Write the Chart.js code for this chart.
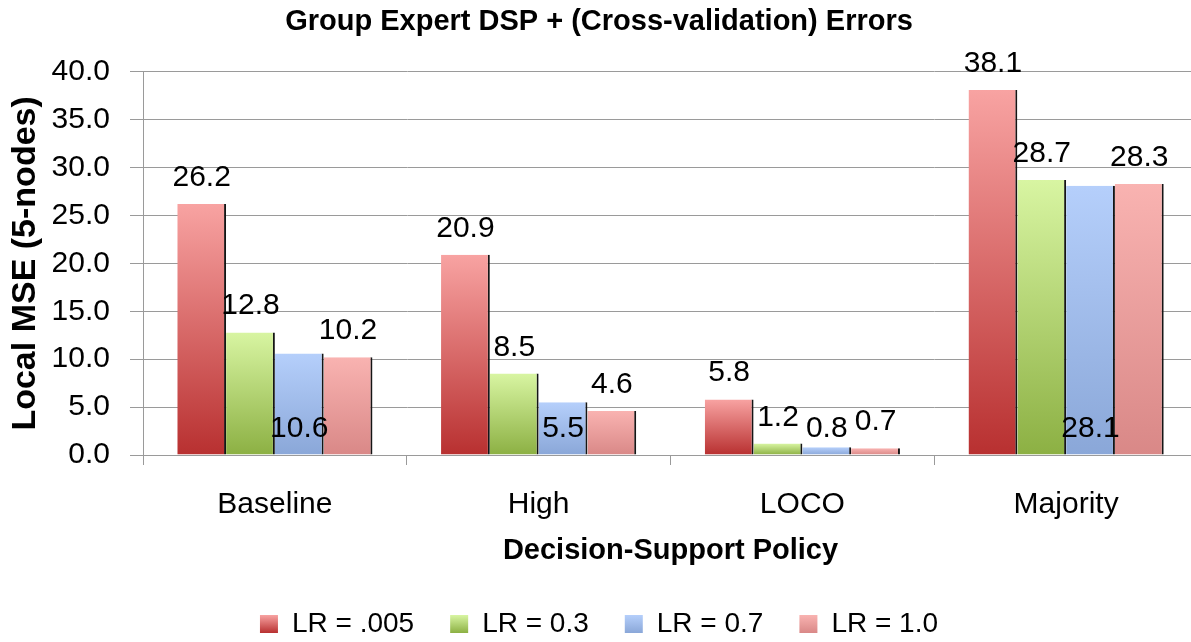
<!DOCTYPE html>
<html>
<head>
<meta charset="utf-8">
<script src="https://cdn.jsdelivr.net/npm/chart.js@4"></script>
<style>
  html, body { margin: 0; padding: 0; background: #fff; overflow: hidden; }
  #wrap { width: 1198px; height: 642px; }
</style>
</head>
<body>
<div id="wrap"><canvas id="myChart"></canvas></div>
<script>
// values
const policies = ["Baseline", "High", "LOCO", "Majority"];
const lr005 = [26.2, 20.9, 5.8, 38.1];
const lr03  = [12.8, 8.5, 1.2, 28.7];
const lr07  = [10.6, 5.5, 0.8, 28.1];
const lr10  = [10.2, 4.6, 0.7, 28.3];
const yTicks = [0, 5, 10, 15, 20, 25, 30, 35, 40];

const FONT = "'Liberation Sans', Arial, sans-serif";

// vertical gradient along each bar (light at top, dark at base)
function barGrad(top, bottom) {
    return function (c) {
        const ch = c.chart;
        const ys = ch.scales.y;
        if (!ys || c.type !== "data" || c.raw == null) return bottom;
        const y0 = ys.getPixelForValue(c.raw), y1 = ys.getPixelForValue(0);
        if (!isFinite(y0) || !isFinite(y1) || y0 === y1) return bottom;
        const g = ch.ctx.createLinearGradient(0, y0, 0, y1);
        g.addColorStop(0, top);
        g.addColorStop(1, bottom);
        return g;
    };
}

// value labels: above the bar, or near the base when dataset.labelInside
const valueLabels = {
    id: "valueLabels",
    afterDatasetsDraw(chart) {
        const ctx = chart.ctx;
        const base = chart.scales.y.getPixelForValue(0);
        ctx.save();
        ctx.font = "30px " + FONT;
        ctx.fillStyle = "#000";
        ctx.textAlign = "center";
        ctx.textBaseline = "alphabetic";
        chart.data.datasets.forEach((ds, i) => {
            chart.getDatasetMeta(i).data.forEach((bar, j) => {
                const y = ds.labelInside ? base - 18 : bar.y - 18;
                ctx.fillText(ds.data[j].toFixed(1), bar.x, y);
            });
        });
        ctx.restore();
    }
};

const mk = (label, data, top, bottom, extra) => Object.assign({
    label: label,
    data: data,
    backgroundColor: barGrad(top, bottom),
    topColor: top,
    baseColor: bottom,
    borderColor: "#151515",
    borderWidth: { top: 0, right: 2, bottom: 0, left: 0 },
    borderSkipped: false,
    categoryPercentage: 0.74,
    barPercentage: 1.0
}, extra || {});

const myChart = document.getElementById("myChart").getContext("2d");
const chart = new Chart(myChart, {
    type: "bar",
    data: {
        labels: policies,
        datasets: [
            mk("LR = .005", lr005, "#f8a3a2", "#b83030"),
            mk("LR = 0.3", lr03, "#d8f5a2", "#8cb043"),
            mk("LR = 0.7", lr07, "#b5cffb", "#8aa7d8", { labelInside: true }),
            mk("LR = 1.0", lr10, "#f9b3b1", "#d98887")
        ]
    },
    options: {
        responsive: true,
        maintainAspectRatio: false,
        animation: false,
        layout: { padding: { left: 0, right: 0, top: 0, bottom: -6 } },
        plugins: {
            title: {
                display: true,
                text: "Group Expert DSP + (Cross-validation) Errors",
                color: "#000",
                font: { family: FONT, size: 29, weight: "bold" },
                padding: { top: 5, bottom: 32 }
            },
            legend: {
                position: "bottom",
                labels: {
                    color: "#000",
                    font: { family: FONT, size: 28, lineHeight: 1.0 },
                    boxWidth: 18,
                    boxHeight: 18,
                    padding: 36,
                    generateLabels(ch) {
                        // small gradient in the legend swatch, over the legend row
                        const yc = ch.height + 6 - 10 - 14;
                        return ch.data.datasets.map((ds, i) => {
                            const g = ch.ctx.createLinearGradient(0, yc - 9, 0, yc + 9);
                            g.addColorStop(0, ds.topColor);
                            g.addColorStop(1, ds.baseColor);
                            return {
                                text: ds.label,
                                fillStyle: g,
                                strokeStyle: ds.baseColor,
                                lineWidth: 0,
                                datasetIndex: i,
                                fontColor: "#000"
                            };
                        });
                    }
                }
            },
            tooltip: { enabled: false }
        },
        scales: {
            x: {
                offset: true,
                afterFit(scale) { scale.height = 119; },
                grid: { drawOnChartArea: false, drawTicks: true, tickLength: 10, color: "#9a9a9a", offset: true },
                border: { display: true, color: "#9a9a9a" },
                ticks: { color: "#000", font: { family: FONT, size: 30 }, padding: 22 },
                title: {
                    display: true,
                    text: "Decision-Support Policy",
                    color: "#000",
                    font: { family: FONT, size: 29, weight: "bold", lineHeight: 1.0 },
                    padding: { top: 0, bottom: 9 }
                }
            },
            y: {
                min: 0,
                max: 40,
                afterBuildTicks(scale) {
                    scale.ticks = yTicks.map(v => ({ value: v }));
                },
                afterFit(scale) { scale.width = 143; },
                grid: { color: "#9a9a9a", tickLength: 13 },
                border: { display: true, color: "#9a9a9a" },
                ticks: {
                    color: "#000",
                    font: { family: FONT, size: 30 },
                    padding: 20,
                    callback: v => v.toFixed(1)
                },
                title: {
                    display: true,
                    text: "Local MSE (5-nodes)",
                    color: "#000",
                    font: { family: FONT, size: 34, weight: "bold" },
                    padding: { top: 5, bottom: 0 }
                }
            }
        }
    },
    plugins: [valueLabels]
});
</script>
</body>
</html>
